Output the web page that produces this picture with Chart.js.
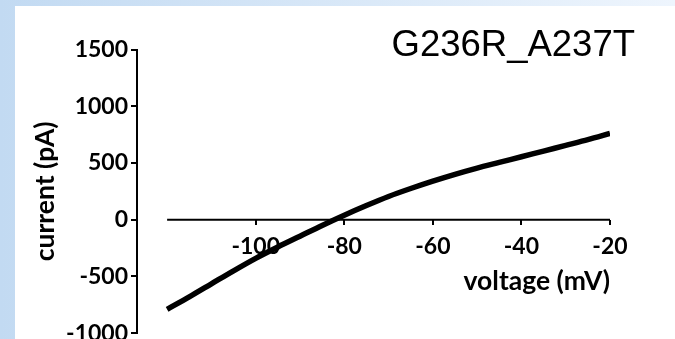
<!DOCTYPE html>
<html>
<head>
    <title>G236R_A237T I-V curve</title>
    <script src="https://cdn.jsdelivr.net/npm/chart.js"></script>
    <style>
        body { margin: 0; width: 675px; height: 339px; overflow: hidden; position: relative;
               background: linear-gradient(to right, #c2daf2, #eef5fd); }
        .panel { position: absolute; left: 15px; top: 6px; width: 660px; height: 333px; background: #fff; overflow: hidden; }
        .chart-box { position: relative; width: 660px; height: 344px; }
        #title { position: absolute; right: 40px; top: 26px; font-family: "Liberation Sans", Arial, sans-serif;
                 font-size: 36.5px; line-height: 36px; color: #000; }
    </style>
</head>
<body>
    <div class="panel">
        <div class="chart-box">
            <canvas id="ivChart"></canvas>
        </div>
    </div>
    <div id="title">G236R_A237T</div>

    <script>
        const voltage = [-120, -115, -110, -105, -100, -95, -90, -85, -80, -75, -70,
                         -65, -60, -55, -50, -45, -40, -35, -30, -25, -20];
        const current = [-790, -680, -565, -450, -340, -240, -145, -50, 40, 125, 205,
                         275, 340, 400, 455, 505, 555, 605, 655, 705, 760];
        const xTicks = [-100, -80, -60, -40, -20];
        const yTicks = [-1000, -500, 0, 500, 1000, 1500];

        const axisFont = { family: 'Lato', weight: 'bold', size: 23 };
        const titleFont = { family: 'Lato', weight: 'bold', size: 26.5 };

        // x axis line only spans the recorded range, drawn at current = 0
        const zeroLine = {
            id: 'zeroLine',
            beforeDatasetsDraw(chart) {
                const { ctx, scales: { x, y } } = chart;
                const yPix = y.getPixelForValue(0);
                ctx.save();
                ctx.strokeStyle = '#000';
                ctx.lineWidth = 2;
                ctx.beginPath();
                ctx.moveTo(x.getPixelForValue(voltage[0]), yPix);
                ctx.lineTo(x.getPixelForValue(voltage[voltage.length - 1]), yPix);
                ctx.stroke();
                ctx.restore();
            }
        };

        const ctx = document.getElementById('ivChart').getContext('2d');
        new Chart(ctx, {
            type: 'line',
            data: {
                datasets: [{
                    data: voltage.map((v, i) => ({ x: v, y: current[i] })),
                    borderColor: '#000',
                    borderWidth: 5.5,
                    pointRadius: 0,
                    tension: 0.3,
                    fill: false
                }]
            },
            options: {
                responsive: true,
                maintainAspectRatio: false,
                animation: false,
                layout: { padding: { top: 43.5, left: 15, right: 65, bottom: 0 } },
                plugins: { legend: { display: false }, tooltip: { enabled: false } },
                scales: {
                    x: {
                        type: 'linear',
                        min: -126.8,
                        max: -20,
                        position: { y: 0 },
                        afterBuildTicks: s => { s.ticks = xTicks.map(v => ({ value: v })); },
                        afterFit: s => { s.height = 78; },
                        border: { display: false },
                        grid: { drawOnChartArea: false, drawTicks: true, tickLength: 5, color: '#000', lineWidth: 2 },
                        ticks: { color: '#000', font: axisFont, padding: 8, callback: v => String(v) },
                        title: { display: true, text: 'voltage (mV)', align: 'end', color: '#000', font: titleFont, padding: 0 }
                    },
                    y: {
                        min: -1000,
                        max: 1500,
                        afterBuildTicks: s => { s.ticks = yTicks.map(v => ({ value: v })); },
                        afterFit: s => { s.width = 107; },
                        border: { display: true, color: '#000', width: 2 },
                        grid: { drawOnChartArea: false, drawTicks: true, tickLength: 6, color: '#000', lineWidth: 2 },
                        ticks: { color: '#000', font: axisFont, padding: 3, callback: v => String(v) },
                        title: { display: true, text: 'current (pA)', color: '#000', font: titleFont, padding: 0 }
                    }
                }
            },
            plugins: [zeroLine]
        });
    </script>
</body>
</html>
